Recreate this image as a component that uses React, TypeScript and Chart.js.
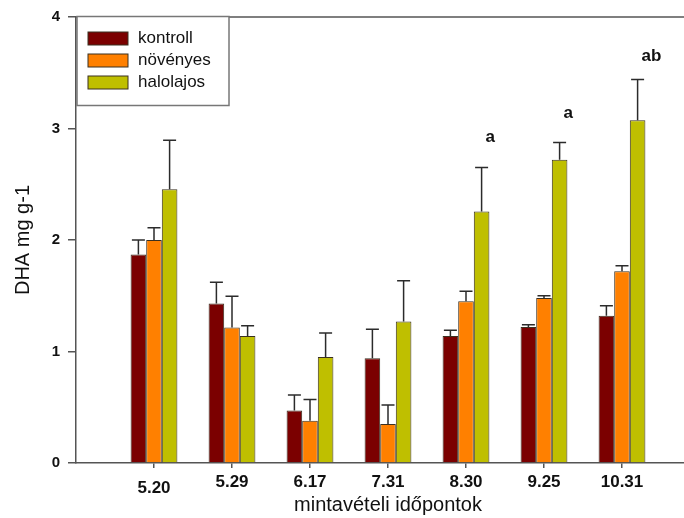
import React, { useEffect, useRef } from 'react';
import { Chart, registerables } from 'chart.js';

Chart.register(...registerables);

const categories = ['5.20', '5.29', '6.17', '7.31', '8.30', '9.25', '10.31'];
const seriesNames = ['kontroll', 'növényes', 'halolajos'];
const kontroll = [1.87, 1.43, 0.47, 0.94, 1.14, 1.22, 1.32];
const kontrollErr = [0.13, 0.19, 0.14, 0.26, 0.05, 0.02, 0.09];
const novenyes = [2.0, 1.215, 0.38, 0.35, 1.45, 1.48, 1.72];
const novenyesErr = [0.11, 0.28, 0.19, 0.17, 0.09, 0.02, 0.05];
const halolajos = [2.455, 1.14, 0.95, 1.27, 2.255, 2.72, 3.075];
const halolajosErr = [0.44, 0.09, 0.215, 0.365, 0.395, 0.155, 0.365];
const annotationText = ['', '', '', '', 'a', 'a', 'ab'];
const annotationLevel = [null, null, null, null, 2.92, 3.14, 3.65];
const yMin = 0;
const yMax = 4;
const yStep = 1;

const seriesColors = ['#7b0000', '#ff8000', '#bfbf00'];
const FONT = "'Liberation Sans', Arial, Helvetica, sans-serif";
const AXIS = '#555555';

export default function App() {
  const ref = useRef<HTMLCanvasElement>(null);

  useEffect(() => {
    if (!ref.current) return;

    const errorBars = {
      id: 'errorBars',
      afterDatasetsDraw(chart: any) {
        const ctx = chart.ctx;
        const ys = chart.scales.y;
        ctx.save();
        ctx.strokeStyle = '#2b2b2b';
        ctx.lineWidth = 1.5;
        chart.data.datasets.forEach((ds: any, di: number) => {
          const meta = chart.getDatasetMeta(di);
          meta.data.forEach((el: any, i: number) => {
            const v = ds.data[i].y;
            const e = ds.errors[i];
            const top = ys.getPixelForValue(v + e);
            ctx.beginPath();
            ctx.moveTo(el.x, el.y);
            ctx.lineTo(el.x, top);
            ctx.moveTo(el.x - 6.5, top);
            ctx.lineTo(el.x + 6.5, top);
            ctx.stroke();
          });
        });
        ctx.restore();
      },
    };

    const annotations = {
      id: 'annotations',
      afterDatasetsDraw(chart: any) {
        const ctx = chart.ctx;
        const ys = chart.scales.y;
        const meta = chart.getDatasetMeta(2);
        ctx.save();
        ctx.fillStyle = '#111';
        ctx.font = `bold 17px ${FONT}`;
        ctx.textAlign = 'left';
        ctx.textBaseline = 'middle';
        annotationText.forEach((t, i) => {
          const lvl = annotationLevel[i];
          if (!t || lvl === null) return;
          const el = meta.data[i];
          ctx.fillText(t, el.x + 4, ys.getPixelForValue(lvl));
        });
        ctx.restore();
      },
    };

    const frameAndLegend = {
      id: 'frameAndLegend',
      afterDraw(chart: any) {
        const ctx = chart.ctx;
        const a = chart.chartArea;
        ctx.save();
        ctx.strokeStyle = AXIS;
        ctx.lineWidth = 1.5;
        ctx.beginPath();
        ctx.moveTo(a.left, a.top);
        ctx.lineTo(a.right, a.top);
        ctx.stroke();
        const bx = a.left + 1;
        const by = a.top - 0.5;
        const bw = 152;
        const bh = 89;
        ctx.fillStyle = '#ffffff';
        ctx.fillRect(bx, by, bw, bh);
        ctx.strokeStyle = '#777777';
        ctx.lineWidth = 1.5;
        ctx.strokeRect(bx, by, bw, bh);
        ctx.font = `17px ${FONT}`;
        ctx.textAlign = 'left';
        ctx.textBaseline = 'middle';
        chart.data.datasets.forEach((ds: any, i: number) => {
          const sy = by + 15.5 + i * 22;
          ctx.fillStyle = ds.backgroundColor;
          ctx.fillRect(bx + 11, sy, 40, 13);
          ctx.strokeStyle = '#3a3020';
          ctx.lineWidth = 1;
          ctx.strokeRect(bx + 11, sy, 40, 13);
          ctx.fillStyle = '#111';
          ctx.fillText(ds.label, bx + 61, sy + 6.5);
        });
        ctx.restore();
      },
    };

    const values = [kontroll, novenyes, halolajos];
    const errs = [kontrollErr, novenyesErr, halolajosErr];

    const chart = new Chart(ref.current, {
      type: 'bar',
      data: {
        datasets: seriesNames.map((name, si) => ({
          label: name,
          data: values[si].map((v, i) => ({ x: i + 1, y: v })),
          errors: errs[si],
          backgroundColor: seriesColors[si],
          borderColor: '#3a3020',
          borderWidth: 1,
          categoryPercentage: 0.6,
          barPercentage: 1,
        })) as any,
      },
      options: {
        responsive: false,
        devicePixelRatio: 1,
        animation: false,
        layout: { padding: { top: 17, right: 20, bottom: 0, left: 0 } },
        plugins: {
          legend: { display: false },
          tooltip: { enabled: false },
        },
        scales: {
          x: {
            type: 'linear',
            min: 0,
            max: categories.length + 1,
            offset: false,
            afterBuildTicks: (scale: any) => {
              scale.ticks = categories.map((_, i) => ({ value: i + 1 }));
            },
            afterFit: (scale: any) => {
              scale.height = 55;
            },
            grid: {
              offset: false,
              drawOnChartArea: false,
              drawTicks: true,
              tickLength: 5,
              color: AXIS,
              lineWidth: 1.5,
            },
            border: { display: true, color: AXIS, width: 1.5 },
            ticks: {
              autoSkip: false,
              maxRotation: 0,
              padding: 4,
              color: '#111',
              font: (ctx: any) => ({
                family: FONT,
                size: 17,
                weight: 'bold',
                lineHeight: ctx.index === 0 ? 1.96 : 1.2,
              }),
              callback: (value: any) => categories[Number(value) - 1] ?? '',
            },
            title: {
              display: true,
              text: 'mintavételi időpontok',
              color: '#111',
              font: { family: FONT, size: 20 },
              padding: { top: 0, bottom: 1 },
            },
          },
          y: {
            type: 'linear',
            min: yMin,
            max: yMax,
            afterFit: (scale: any) => {
              scale.width = 76;
            },
            grid: {
              drawOnChartArea: false,
              drawTicks: true,
              tickLength: 8,
              color: AXIS,
              lineWidth: 1.5,
            },
            border: { display: true, color: AXIS, width: 1.5 },
            ticks: {
              stepSize: yStep,
              padding: 8,
              color: '#111',
              font: { family: FONT, size: 15, weight: 'bold' },
            },
            title: {
              display: true,
              text: 'DHA mg g-1',
              color: '#111',
              font: { family: FONT, size: 20 },
              padding: { top: 11, bottom: 0 },
            },
          },
        },
      } as any,
      plugins: [errorBars, annotations, frameAndLegend],
    });

    return () => chart.destroy();
  }, []);

  return (
    <div
      style={{
        position: 'absolute',
        left: 0,
        top: 0,
        width: 684,
        height: 518,
        overflow: 'hidden',
        background: '#ffffff',
      }}
    >
      <canvas ref={ref} width={720} height={518} style={{ display: 'block', width: 720, height: 518 }} />
    </div>
  );
}
